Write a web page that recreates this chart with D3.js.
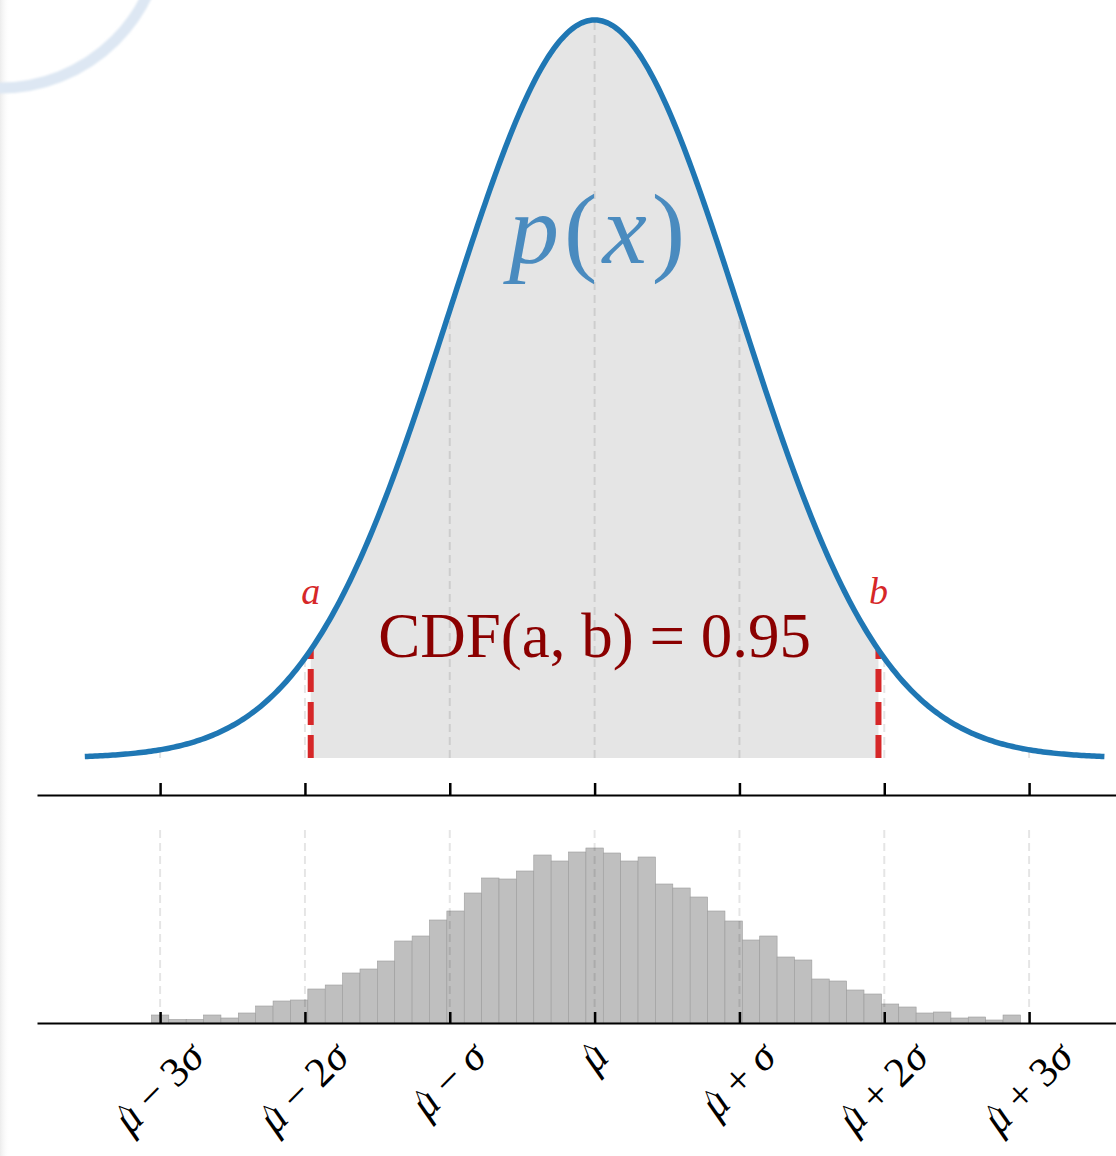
<!DOCTYPE html>
<meta charset="utf-8">
<style>
body { margin: 0; background: #fff; }
svg { display: block; }
text { font-family: 'Liberation Serif', 'DejaVu Serif', serif; }
</style>
<body>
<svg width="1116" height="1156"></svg>
<script src="https://d3js.org/d3.v7.min.js"></script>
<script>

// values in units of sigma around mu-hat
var xLimits = [-3.85, 3.6],
    curveRange = [-3.52, 3.52],
    intervalA = -1.96,
    intervalB = 1.96,
    tickValues = [-3, -2, -1, 0, 1, 2, 3],
    tickLabels = ["μ − 3σ", "μ − 2σ", "μ − σ", "μ", "μ + σ", "μ + 2σ", "μ + 3σ"];

// histogram of the sample (50 bins), counts
var histRange = [-3.06, 2.94];
var histCounts = [8, 3.5, 3.5, 8, 5, 10, 17, 22, 23, 34,
                  38, 50, 54, 62, 82, 87, 103, 112, 130, 145,
                  144, 152, 168, 162, 171, 175, 170, 162, 166, 139,
                  135, 126, 112, 102, 83, 87, 66, 63, 44, 42,
                  33, 29, 19, 16, 10, 11, 5, 6, 3, 8];

var svg = d3.select("svg"),
    width = +svg.attr("width"),
    height = +svg.attr("height");

var x = d3.scaleLinear().domain(xLimits).range([37, 1116]);

function pdf(t) { return Math.exp(-0.5 * t * t) / Math.sqrt(2 * Math.PI); }

var yTop = d3.scaleLinear().domain([0, pdf(0)]).range([758, 20]);
var yHist = d3.scaleLinear().domain([0, d3.max(histCounts)]).range([1023, 848]);

// faint decoration top-left + left edge shade
var defs = svg.append("defs");
var edge = defs.append("linearGradient").attr("id", "edge");
edge.append("stop").attr("offset", "0").attr("stop-color", "#ececec");
edge.append("stop").attr("offset", "1").attr("stop-color", "#fff").attr("stop-opacity", 0);
defs.append("filter").attr("id", "soft")
  .append("feGaussianBlur").attr("stdDeviation", 1.2);

svg.append("rect").attr("x", 0).attr("y", 0).attr("width", 10).attr("height", height)
    .attr("fill", "url(#edge)");
svg.append("circle").attr("cx", 0).attr("cy", -75).attr("r", 163)
    .attr("fill", "none").attr("stroke", "#dde7f3").attr("stroke-width", 11)
    .attr("filter", "url(#soft)");

// ---- top panel ----
var curvePts = d3.range(0, 401).map(function(i) {
  var t = curveRange[0] + (curveRange[1] - curveRange[0]) * i / 400;
  return [t, pdf(t)];
});

var fillPts = d3.range(0, 201).map(function(i) {
  var t = intervalA + (intervalB - intervalA) * i / 200;
  return [t, pdf(t)];
});

svg.append("path")
    .datum(fillPts)
    .attr("fill", "#e5e5e5")
    .attr("d", d3.area().x(d => x(d[0])).y0(yTop(0)).y1(d => yTop(d[1])));

svg.append("g").selectAll("line")
    .data(tickValues)
    .join("line")
    .attr("x1", d => x(d)).attr("x2", d => x(d))
    .attr("y1", yTop(0)).attr("y2", d => yTop(pdf(d)))
    .attr("stroke", "rgba(0,0,0,0.1)")
    .attr("stroke-width", 2)
    .attr("stroke-dasharray", "8,5");

svg.append("g").selectAll("line")
    .data([intervalA, intervalB])
    .join("line")
    .attr("x1", d => x(d)).attr("x2", d => x(d))
    .attr("y1", yTop(0)).attr("y2", d => yTop(pdf(d)))
    .attr("stroke", "#d62728")
    .attr("stroke-width", 6)
    .attr("stroke-dasharray", "23,10");

svg.append("path")
    .datum(curvePts)
    .attr("fill", "none")
    .attr("stroke", "#1f77b4")
    .attr("stroke-width", 5.5)
    .attr("d", d3.line().x(d => x(d[0])).y(d => yTop(d[1])));

var px = svg.append("text")
    .attr("x", x(0) + 5).attr("y", 263)
    .attr("text-anchor", "middle")
    .attr("fill", "#4a8bbf")
    .attr("font-size", 100)
    .attr("letter-spacing", 5);
px.append("tspan").attr("font-style", "italic").text("p");
px.append("tspan").text("(");
px.append("tspan").attr("font-style", "italic").text("x");
px.append("tspan").text(")");

svg.append("text")
    .attr("x", x(0)).attr("y", 657)
    .attr("text-anchor", "middle")
    .attr("fill", "#8b0000")
    .attr("font-size", 63)
    .text("CDF(a, b) = 0.95");

svg.append("g").selectAll("text")
    .data([["a", intervalA], ["b", intervalB]])
    .join("text")
    .attr("x", d => x(d[1]))
    .attr("y", 604)
    .attr("text-anchor", "middle")
    .attr("fill", "#d62728")
    .attr("font-style", "italic")
    .attr("font-size", 38)
    .text(d => d[0]);

function styleAxis(g) {
  g.select(".domain").attr("stroke", "#000").attr("stroke-width", 2);
  g.selectAll(".tick line").attr("stroke", "#000").attr("stroke-width", 2.5);
  g.selectAll(".tick text").remove();
}

svg.append("g")
    .attr("transform", "translate(0,795)")
    .call(d3.axisTop(x).tickValues(tickValues).tickSize(12).tickSizeOuter(0).tickFormat(""))
    .call(styleAxis);

// ---- bottom panel: histogram ----
var binW = (histRange[1] - histRange[0]) / histCounts.length;
var bins = histCounts.map(function(c, i) {
  return {x0: histRange[0] + i * binW, x1: histRange[0] + (i + 1) * binW, n: c};
});

svg.append("g").selectAll("rect")
    .data(bins)
    .join("rect")
    .attr("x", d => x(d.x0))
    .attr("width", d => x(d.x1) - x(d.x0))
    .attr("y", d => yHist(d.n))
    .attr("height", d => yHist(0) - yHist(d.n))
    .attr("fill", "#bfbfbf")
    .attr("stroke", "#9c9c9c")
    .attr("stroke-width", 0.6);

svg.append("g").selectAll("line")
    .data(tickValues)
    .join("line")
    .attr("x1", d => x(d)).attr("x2", d => x(d))
    .attr("y1", 830).attr("y2", 1023)
    .attr("stroke", "rgba(0,0,0,0.1)")
    .attr("stroke-width", 2)
    .attr("stroke-dasharray", "8,5");

svg.append("g")
    .attr("transform", "translate(0,1023)")
    .call(d3.axisTop(x).tickValues(tickValues).tickSize(11).tickSizeOuter(0).tickFormat(""))
    .call(styleAxis);

// rotated tick labels, centred on the tick, top of the rotated box near y=1040
var fs = 42,
    base = fs * 0.28;
var labels = svg.append("g").selectAll("g")
    .data(tickValues.map((v, i) => [v, tickLabels[i]]))
    .join("g");

labels.each(function(d) {
  var g = d3.select(this);
  var t = g.append("text")
      .attr("font-size", fs)
      .attr("fill", "#000")
      .attr("text-anchor", "middle")
      .attr("y", base);
  d[1].split(/([μσ])/).filter(s => s.length).forEach(function(s) {
    t.append("tspan")
      .attr("font-style", /[μσ]/.test(s) ? "italic" : null)
      .text(s);
  });
  // hat over the mu
  var mu = t.node().getExtentOfChar(0);
  g.append("text")
      .attr("font-size", fs * 0.6)
      .attr("fill", "#000")
      .attr("text-anchor", "middle")
      .attr("x", mu.x + mu.width * 0.6)
      .attr("y", base - fs * 0.3)
      .text("^");
  var L = t.node().getComputedTextLength(),
      half = (L + fs * 0.75) / (2 * Math.SQRT2);
  g.attr("transform", "translate(" + x(d[0]) + "," + (1040 + half) + ") rotate(-45)");
});

</script>
</body>
